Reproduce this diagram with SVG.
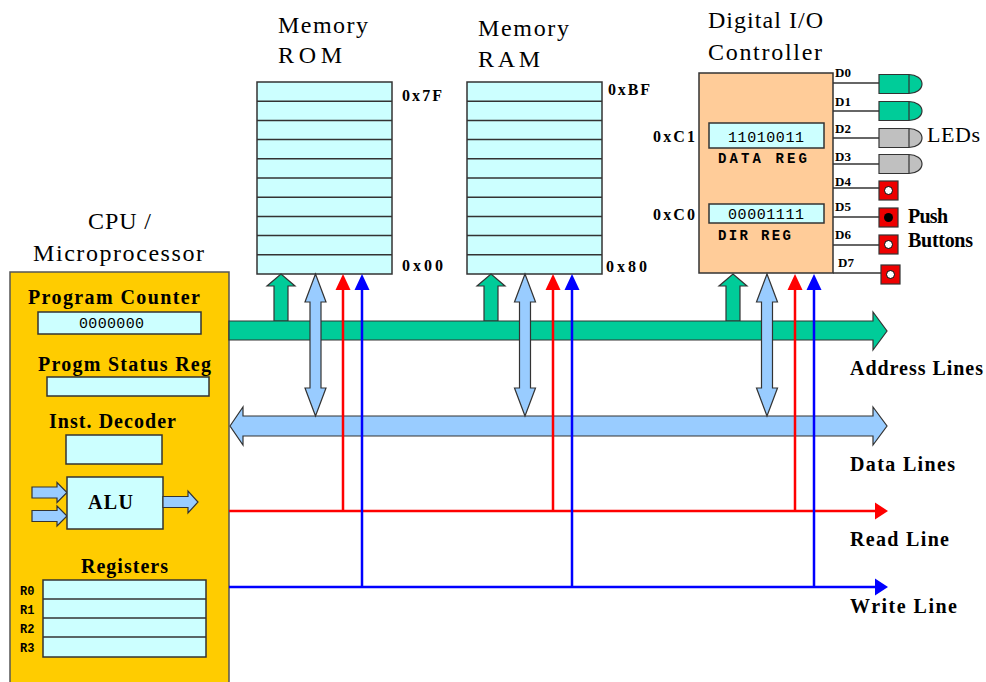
<svg xmlns="http://www.w3.org/2000/svg" width="986" height="682" viewBox="0 0 986 682">
  <style>
    .t { font-family: "Liberation Serif", "Times New Roman", serif; fill: #000; }
    .title { font-size: 24px; }
    .lbl { font-size: 20px; font-weight: bold; }
    .hex { font-size: 16px; font-weight: bold; }
    .pin { font-size: 13px; font-weight: bold; }
    .mono { font-family: "Liberation Mono", "Courier New", monospace; fill: #000; }
    .reg { fill: #CCFFFF; stroke: #333; stroke-width: 1.5; }
    .row { stroke: #333; stroke-width: 1.5; }
    .blk { stroke: #333; stroke-width: 1.2; stroke-linejoin: miter; }
    .addr { fill: #00CC99; }
    .data { fill: #99CCFF; }
    .rd { stroke: #FF0000; stroke-width: 2.5; fill: none; }
    .wr { stroke: #0000FF; stroke-width: 2.5; fill: none; }
    .rdh { fill: #FF0000; }
    .wrh { fill: #0000FF; }
    .wire { stroke: #333; stroke-width: 1.5; }
    .btn { fill: #EE0000; stroke: #333; stroke-width: 1.2; }
  </style>
  <defs>
    <!-- ALU-style block arrow pointing right, origin at shaft start, centred vertically -->
    <polygon id="blockR" points="0,-5.5 25,-5.5 25,-10 35,0 25,10 25,5.5 0,5.5"/>
    <!-- addressing stub: shaft from bus top (y=0) up to a head touching the device -->
    <polygon id="addrUp" points="-7,0 -7,-35 -14,-35 0,-47 14,-35 7,-35 7,0"/>
    <!-- two-way data stub between device (y=0) and data bus (y=142) -->
    <polygon id="dataUD" points="0,0 10.5,28 5.5,28 5.5,114 10.5,114 0,142 -10.5,114 -5.5,114 -5.5,28 -10.5,28"/>
    <polygon id="headUp" points="0,0 7.5,16 -7.5,16"/>
    <!-- LED body with rounded lens -->
    <path id="led" d="M0,-9.5 H30 A13,9.5 0 0 1 30,9.5 H0 Z M30,-9.5 V9.5"/>
  </defs>

  <rect width="986" height="682" fill="#fff"/>

  <!-- CPU -->
  <g id="cpu">
    <text class="t title" x="88" y="229" textLength="63" lengthAdjust="spacing">CPU /</text>
    <text class="t title" x="33" y="261" textLength="171" lengthAdjust="spacing">Microprocessor</text>
    <rect x="10" y="272" width="219" height="420" fill="#FFCC00" stroke="#555" stroke-width="1.5"/>
    <text class="t lbl" x="28" y="304" textLength="172" lengthAdjust="spacing">Program Counter</text>
    <rect class="reg" x="38" y="312" width="163" height="22"/>
    <text class="mono" x="79" y="328" font-size="15" textLength="65" lengthAdjust="spacing">0000000</text>
    <text class="t lbl" x="38" y="371" textLength="173" lengthAdjust="spacing">Progm Status Reg</text>
    <rect class="reg" x="47" y="377" width="162" height="19"/>
    <text class="t lbl" x="49" y="428" textLength="127" lengthAdjust="spacing">Inst. Decoder</text>
    <rect class="reg" x="66" y="435" width="96" height="29"/>
    <use href="#blockR" x="32" y="492.5" class="data blk"/>
    <use href="#blockR" x="32" y="516" class="data blk"/>
    <rect class="reg" x="67" y="477" width="96" height="52"/>
    <text class="t lbl" x="88" y="509" textLength="45" lengthAdjust="spacing">ALU</text>
    <polygon class="data blk" points="163,496.5 188,496.5 188,491 198,502 188,513 188,507.5 163,507.5"/>
    <text class="t lbl" x="81" y="573" textLength="87" lengthAdjust="spacing">Registers</text>
    <rect class="reg" x="43" y="580" width="163" height="77"/>
    <line class="row" x1="43" y1="599" x2="206" y2="599"/>
    <line class="row" x1="43" y1="618" x2="206" y2="618"/>
    <line class="row" x1="43" y1="637" x2="206" y2="637"/>
    <g class="mono" font-size="12" font-weight="bold">
      <text x="20" y="595">R0</text>
      <text x="20" y="614">R1</text>
      <text x="20" y="633">R2</text>
      <text x="20" y="652">R3</text>
    </g>
  </g>

  <!-- ROM -->
  <g id="rom">
    <text class="t title" x="278" y="33" textLength="90" lengthAdjust="spacing">Memory</text>
    <text class="t title" x="278" y="63" textLength="64" lengthAdjust="spacing">ROM</text>
    <rect class="reg" x="257" y="82" width="135" height="192"/>
    <g class="row">
      <line x1="257" y1="101.2" x2="392" y2="101.2"/>
      <line x1="257" y1="120.4" x2="392" y2="120.4"/>
      <line x1="257" y1="139.6" x2="392" y2="139.6"/>
      <line x1="257" y1="158.8" x2="392" y2="158.8"/>
      <line x1="257" y1="178" x2="392" y2="178"/>
      <line x1="257" y1="197.2" x2="392" y2="197.2"/>
      <line x1="257" y1="216.4" x2="392" y2="216.4"/>
      <line x1="257" y1="235.6" x2="392" y2="235.6"/>
      <line x1="257" y1="254.8" x2="392" y2="254.8"/>
    </g>
    <text class="t hex" x="402" y="101" textLength="40" lengthAdjust="spacing">0x7F</text>
    <text class="t hex" x="402" y="271" textLength="41" lengthAdjust="spacing">0x00</text>
  </g>

  <!-- RAM -->
  <g id="ram">
    <text class="t title" x="478" y="36" textLength="91" lengthAdjust="spacing">Memory</text>
    <text class="t title" x="478" y="67" textLength="62" lengthAdjust="spacing">RAM</text>
    <rect class="reg" x="467" y="82" width="135" height="192"/>
    <g class="row">
      <line x1="467" y1="101.2" x2="602" y2="101.2"/>
      <line x1="467" y1="120.4" x2="602" y2="120.4"/>
      <line x1="467" y1="139.6" x2="602" y2="139.6"/>
      <line x1="467" y1="158.8" x2="602" y2="158.8"/>
      <line x1="467" y1="178" x2="602" y2="178"/>
      <line x1="467" y1="197.2" x2="602" y2="197.2"/>
      <line x1="467" y1="216.4" x2="602" y2="216.4"/>
      <line x1="467" y1="235.6" x2="602" y2="235.6"/>
      <line x1="467" y1="254.8" x2="602" y2="254.8"/>
    </g>
    <text class="t hex" x="608" y="95" textLength="42" lengthAdjust="spacing">0xBF</text>
    <text class="t hex" x="606" y="272" textLength="41" lengthAdjust="spacing">0x80</text>
  </g>

  <!-- Digital I/O controller -->
  <g id="io">
    <text class="t title" x="708" y="28" textLength="115" lengthAdjust="spacing">Digital I/O</text>
    <text class="t title" x="708" y="60" textLength="114" lengthAdjust="spacing">Controller</text>
    <g class="wire">
      <line x1="833" y1="83" x2="879" y2="83"/>
      <line x1="833" y1="111" x2="879" y2="111"/>
      <line x1="833" y1="138" x2="879" y2="138"/>
      <line x1="833" y1="164" x2="879" y2="164"/>
      <line x1="833" y1="188" x2="879" y2="188"/>
      <line x1="833" y1="217" x2="879" y2="217"/>
      <line x1="833" y1="245" x2="879" y2="245"/>
      <line x1="833" y1="273" x2="881" y2="273"/>
    </g>
    <rect x="699" y="73" width="134" height="200" fill="#FFCC99" stroke="#333" stroke-width="1.5"/>
    <text class="t hex" x="653" y="142" textLength="42" lengthAdjust="spacing">0xC1</text>
    <rect class="reg" x="709" y="123" width="115" height="25"/>
    <text class="mono" x="728" y="142" font-size="15" textLength="76" lengthAdjust="spacing">11010011</text>
    <text class="mono" x="718" y="163" font-size="14" font-weight="bold" textLength="89" lengthAdjust="spacing">DATA REG</text>
    <text class="t hex" x="653" y="220" textLength="42" lengthAdjust="spacing">0xC0</text>
    <rect class="reg" x="709" y="204" width="115" height="19"/>
    <text class="mono" x="728" y="219" font-size="15" textLength="76" lengthAdjust="spacing">00001111</text>
    <text class="mono" x="718" y="240" font-size="14" font-weight="bold" textLength="73" lengthAdjust="spacing">DIR REG</text>
    <g class="t pin">
      <text x="835" y="77">D0</text>
      <text x="835" y="106">D1</text>
      <text x="835" y="133">D2</text>
      <text x="835" y="161">D3</text>
      <text x="835" y="186">D4</text>
      <text x="835" y="211">D5</text>
      <text x="835" y="239">D6</text>
      <text x="838" y="267">D7</text>
    </g>
  </g>

  <!-- LEDs on D0-D3 -->
  <g id="leds">
    <use href="#led" x="879" y="84" fill="#00CC99" stroke="#333" stroke-width="1.2"/>
    <use href="#led" x="879" y="111" fill="#00CC99" stroke="#333" stroke-width="1.2"/>
    <use href="#led" x="879" y="138" fill="#C0C0C0" stroke="#333" stroke-width="1.2"/>
    <use href="#led" x="879" y="164" fill="#C0C0C0" stroke="#333" stroke-width="1.2"/>
    <text class="t" x="927" y="142" font-size="22" textLength="53" lengthAdjust="spacing">LEDs</text>
  </g>

  <!-- push buttons on D4-D7 -->
  <g id="buttons">
    <rect class="btn" x="879" y="181" width="19" height="19"/>
    <circle cx="888.5" cy="190.5" r="4" fill="#fff" stroke="#000"/>
    <rect class="btn" x="879" y="208" width="19" height="19"/>
    <circle cx="888.5" cy="217.5" r="4.5" fill="#000"/>
    <rect class="btn" x="879" y="235" width="19" height="19"/>
    <circle cx="888.5" cy="244.5" r="4" fill="#fff" stroke="#000"/>
    <rect class="btn" x="881" y="265" width="19" height="19"/>
    <circle cx="890.5" cy="274.5" r="4" fill="#fff" stroke="#000"/>
    <text class="t lbl" x="908" y="223" font-size="18" textLength="40" lengthAdjust="spacing">Push</text>
    <text class="t lbl" x="908" y="247" font-size="18" textLength="65" lengthAdjust="spacing">Buttons</text>
  </g>

  <!-- buses and control lines -->
  <g id="connectors">
    <!-- address stubs -->
    <use href="#addrUp" x="281" y="321" class="addr blk"/>
    <use href="#addrUp" x="491" y="321" class="addr blk"/>
    <use href="#addrUp" x="733" y="321" class="addr blk"/>
    <!-- address bus -->
    <polygon class="addr blk" points="229,321 873,321 873,312 887,331 873,350 873,340 229,340"/>
    <!-- data bus -->
    <polygon class="data blk" points="230,426 243,407 243,416 873,416 873,407 887,426 873,445 873,436 243,436 243,445"/>
    <!-- data stubs -->
    <use href="#dataUD" x="315.5" y="274" class="data blk"/>
    <use href="#dataUD" x="525" y="274" class="data blk"/>
    <use href="#dataUD" x="767" y="274" class="data blk"/>
    <!-- read line -->
    <path class="rd" d="M229,511 H876 M343,511 V289 M553,511 V289 M795,511 V289"/>
    <polygon class="rdh" points="888,511 875,502.5 875,519.5"/>
    <use href="#headUp" x="343" y="274" class="rdh"/>
    <use href="#headUp" x="553" y="274" class="rdh"/>
    <use href="#headUp" x="795" y="274" class="rdh"/>
    <!-- write line -->
    <path class="wr" d="M229,587 H876 M362,587 V289 M572,587 V289 M814,587 V289"/>
    <polygon class="wrh" points="888,587 875,578.5 875,595.5"/>
    <use href="#headUp" x="362" y="274" class="wrh"/>
    <use href="#headUp" x="572" y="274" class="wrh"/>
    <use href="#headUp" x="814" y="274" class="wrh"/>
  </g>

  <g id="bus-labels">
    <text class="t lbl" x="850" y="375" textLength="133" lengthAdjust="spacing">Address Lines</text>
    <text class="t lbl" x="850" y="471" textLength="105" lengthAdjust="spacing">Data Lines</text>
    <text class="t lbl" x="850" y="546" textLength="99" lengthAdjust="spacing">Read Line</text>
    <text class="t lbl" x="850" y="613" textLength="107" lengthAdjust="spacing">Write Line</text>
  </g>
</svg>
